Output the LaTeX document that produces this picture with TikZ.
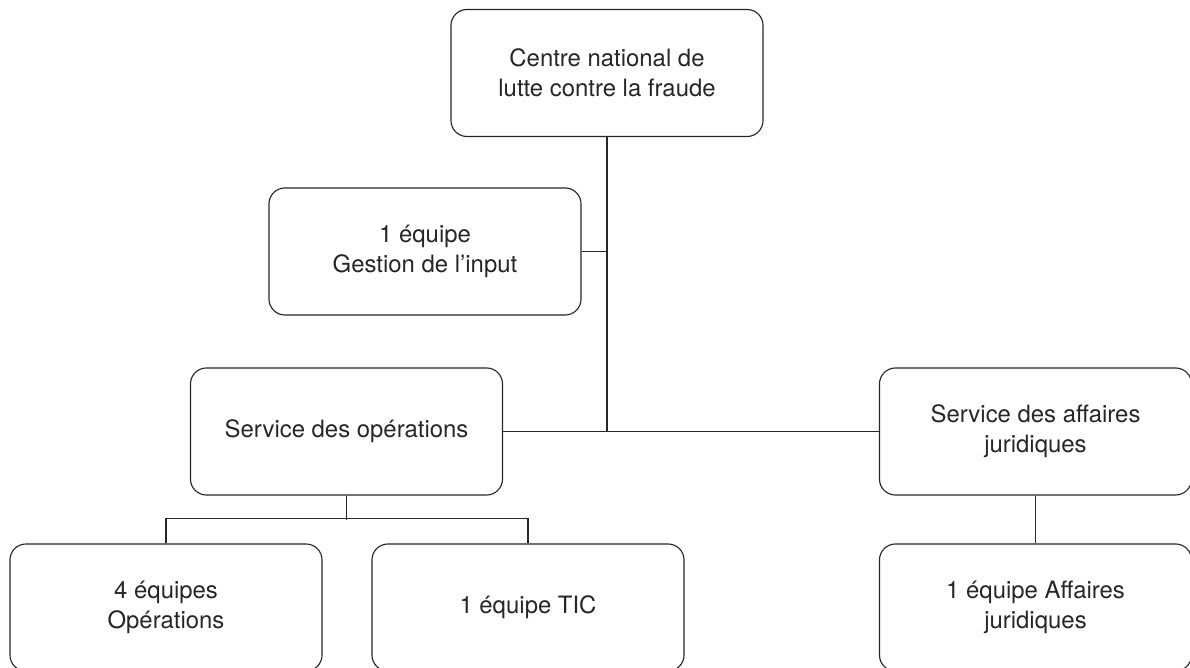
\documentclass[tikz,border=0pt]{standalone}
\usepackage{fontspec}
\setmainfont{TeX Gyre Heros}
\begin{document}
\begin{tikzpicture}[x=0.025cm, y=-0.025cm,
  orgbox/.style={draw=black!85, line width=0.8pt, rounded corners=0.4cm, align=center,
    minimum width=7.8cm, minimum height=3.175cm, text=black!85,
    font=\fontsize{17}{21.3}\selectfont},
  link/.style={draw=black!85, line width=0.8pt}]
\useasboundingbox (0,0) rectangle (1190,668);
\node[orgbox] (cnlf) at (607,73) {Centre national de\\lutte contre la fraude};
\node[orgbox] (input) at (425,251.5) {1 équipe\\Gestion de l’input};
\node[orgbox] (ops) at (346.5,431.5) {Service des opérations};
\node[orgbox] (jur) at (1035.5,431.5) {Service des affaires\\juridiques};
\node[orgbox] (opteams) at (166,607.5) {4 équipes\\Opérations};
\node[orgbox] (tic) at (528,607.5) {1 équipe TIC};
\node[orgbox] (jurteam) at (1035.5,607.5) {1 équipe Affaires\\juridiques};

\draw[link] (cnlf.south) -- (cnlf.south |- ops.east);
\draw[link] (input.east) -- (input.east -| cnlf.south);
\draw[link] (ops.east) -- (jur.west);
\draw[link] (ops.south) -- ++(0,24);
\draw[link] (opteams.north) -- ++(0,-25) -| (tic.north);
\draw[link] (jur.south) -- (jurteam.north);
\end{tikzpicture}
\end{document}
